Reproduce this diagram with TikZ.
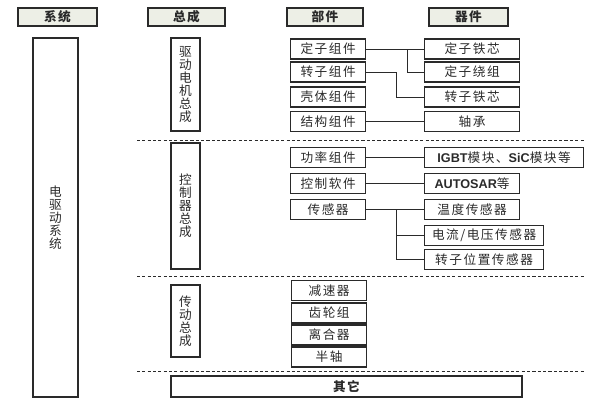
\documentclass[tikz,border=0pt]{standalone}
\usepackage{fontspec}
\setmainfont[LetterSpace=12]{Noto Sans CJK SC}
\newfontfamily\lat{Liberation Sans}
\definecolor{headfill}{HTML}{EDEFE6}
\definecolor{linegray}{HTML}{2A2A2A}
\def\px{0.025cm}
\tikzset{
	box/.style={draw=linegray, line width=0.85pt, text=linegray, inner sep=0pt,
		font=\fontsize{9}{9.3}\selectfont, minimum height=20*\px},
	headbox/.style={box, fill=headfill, minimum height=18*\px, font=\fontsize{9}{9.3}\selectfont\bfseries},
	vbox/.style={box, align=center, minimum width=29*\px},
	partbox/.style={box, anchor=west, minimum width=75*\px},
	devbox/.style={box, anchor=west, minimum width=95*\px},
	link/.style={draw=linegray, line width=0.7pt},
	sep/.style={draw=linegray, line width=0.7pt, dash pattern=on 2.2pt off 1.6pt}
}
\begin{document}
\begin{tikzpicture}[x=\px, y=-\px]
	\useasboundingbox (0,0) rectangle (600,401);
	% headers
	\node[headbox, minimum width=79*\px] (hsys)  at (57.5,17)  {系统};
	\node[headbox, minimum width=77*\px] (hasm)  at (186.5,17) {总成};
	\node[headbox, minimum width=76*\px] (hpart) at (325,17)   {部件};
	\node[headbox, minimum width=79*\px] (hdev)  at (468.5,17) {器件};
	%
	\node[vbox, minimum width=45*\px, minimum height=359*\px] (sys) at (55.5,217.5) {电\\驱\\动\\系\\统};
	%
	\node[vbox, minimum height=93*\px]  (motor) at (185.5,84.5) {驱\\动\\电\\机\\总\\成};
	\node[vbox, minimum height=126*\px] (ctrl)  at (185.5,206)  {控\\制\\器\\总\\成};
	\node[vbox, minimum height=72*\px]  (trans) at (185.5,321)  {传\\动\\总\\成};
	\node[box, minimum width=351*\px, minimum height=21*\px, font=\fontsize{9}{9.3}\selectfont\bfseries] (other) at (346.5,386.5) {其它};
	%
	\draw[sep] (137,140) -- (585,140);
	\draw[sep] (137,276) -- (585,276);
	\draw[sep] (137,371) -- (585,371);
	% motor
	\node[partbox] (stator)  at (290,49)    {定子组件};
	\node[partbox] (rotor)   at (290,72)    {转子组件};
	\node[partbox] (housing) at (290,97)    {壳体组件};
	\node[partbox] (struct)  at (290,121.5) {结构组件};
	\node[devbox] (score)   at (424,49)    {定子铁芯};
	\node[devbox] (swind)   at (424,72)    {定子绕组};
	\node[devbox] (rcore)   at (424,97)    {转子铁芯};
	\node[devbox] (bearing) at (424,121.5) {轴承};
	%
	\draw[link] (stator.east) -- (score.west);
	\path (score.west) ++(-17,0) coordinate (sj);
	\draw[link] (sj) |- (swind.west);
	\draw[link] (rotor.east) -- ++(30,0) |- (rcore.west);
	\draw[link] (struct.east) -- (bearing.west);
	% controller
	\node[partbox] (power)  at (290,157.5) {功率组件};
	\node[partbox] (soft)   at (290,183.5) {控制软件};
	\node[partbox] (sensor) at (290,209.5) {传感器};
	\node[devbox, minimum width=159*\px] (igbt) at (424,157.5) {{\lat\bfseries IGBT}模块、{\lat\bfseries SiC}模块等};
	\node[devbox] (autosar) at (424,183.5) {{\lat\bfseries AUTOSAR}等};
	\node[devbox] (temp) at (424,209.5) {温度传感器};
	\node[devbox, minimum width=119*\px] (curr) at (424,235.5) {电流/电压传感器};
	\node[devbox, minimum width=119*\px] (rpos) at (424,259.5) {转子位置传感器};
	%
	\draw[link] (power.east) -- (igbt.west);
	\draw[link] (soft.east) -- (autosar.west);
	\draw[link] (sensor.east) -- (temp.west);
	\path (sensor.east) ++(30,0) coordinate (tj);
	\draw[link] (tj) |- (curr.west);
	\draw[link] (tj) |- (rpos.west);
	% transmission
	\node[partbox] (reducer) at (291,290.5) {减速器};
	\node[partbox] (gears)   at (291,313)   {齿轮组};
	\node[partbox] (clutch)  at (291,335)   {离合器};
	\node[partbox] (shaft)   at (291,357)   {半轴};
\end{tikzpicture}
\end{document}
